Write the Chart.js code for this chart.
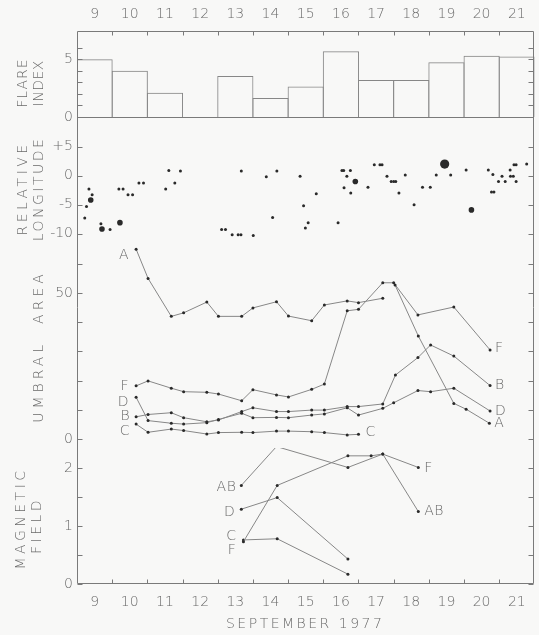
<!DOCTYPE html>
<html>
<head>
<meta charset="utf-8">
<script src="https://cdn.jsdelivr.net/npm/chart.js@4.4.1/dist/chart.umd.min.js"></script>
<style>
html,body{margin:0;padding:0;background:#f8f8f7;}
canvas{display:block;}
</style>
</head>
<body>
<canvas id="c" width="539" height="635"></canvas>
<script>
// ---------------- DATA ----------------
const days = [9,10,11,12,13,14,15,16,17,18,19,20,21];
const flareIndex = [5.0,4.0,2.1,0,3.55,1.65,2.65,5.7,3.2,3.2,4.75,5.3,5.25];

// relative longitude (small dots)
const lonSmallDay = [8.72,8.77,8.84,8.93,9.18,9.44,9.69,9.81,9.95,10.08,10.26,10.39,11.02,11.11,11.28,11.44,
  12.61,12.72,12.91,13.08,13.16,13.17,13.51,13.88,14.06,14.18,14.84,14.94,14.99,15.07,15.3,15.92,16.03,16.08,
  16.09,16.17,16.27,16.28,16.77,16.95,17.11,17.17,17.31,17.43,17.50,17.56,17.65,17.83,18.08,18.32,18.54,18.71,
  19.12,19.56,20.19,20.28,20.35,20.32,20.48,20.58,20.67,20.81,20.82,20.9,20.92,20.98,20.98,21.28];
const lonSmallVal = [-7.3,-5.3,-2.3,-3.3,-8.3,-9.3,-2.3,-2.3,-3.3,-3.3,-1.25,-1.25,-2.3,0.9,-1.25,0.8,
  -9.3,-9.3,-10.2,-10.2,-10.2,0.8,-10.3,-0.2,-7.2,0.8,-0.1,-5.2,-9.0,-8.1,-3.1,-8.1,0.9,0.9,
  -2.1,-0.1,0.9,-3.0,-2.0,1.9,1.9,1.9,-0.1,-1.0,-1.0,-1.0,-3.0,0.1,-5.0,-2.0,-2.0,0.1,
  0.1,1.0,1.0,-2.8,-2.8,0.2,-1.0,-0.1,-1.0,1.0,-0.1,-0.1,1.9,1.9,-1.0,2.0];
// relative longitude (large dots)
const lonBigDay = [8.89,9.21,9.72,16.41,19.71];
const lonBigVal = [-4.2,-9.2,-8.1,-1.0,-5.9];
// relative longitude (largest dot)
const lonHugeDay = [18.95];
const lonHugeVal = [2.0];

// umbral area
const umbA_day = [10.18,10.52,11.18,11.53,12.19,12.52,13.18,13.5,14.17,14.51,15.17,15.53,16.18,16.5,17.19,17.36,17.54,18.2,19.21,19.56,20.22];
const umbA_val = [65.0,55.0,42.0,43.2,46.9,42.0,42.0,44.9,47.0,42.1,40.5,45.9,47.3,46.7,48.2,null,52.7,35.3,12.2,10.2,5.4];
const umbF_day = [10.18,10.52,11.18,11.53,12.19,12.52,13.18,13.5,14.17,14.51,15.17,15.53,16.18,16.5,17.19,17.5,18.19,19.21,20.24];
const umbF_val = [18.2,19.9,17.4,16.2,16.0,15.4,13.1,16.9,15.1,14.4,17.0,18.8,43.9,44.4,53.5,53.5,42.5,45.2,30.5];
const umbD_day = [10.18,10.52,11.18,11.53,12.19,12.52,13.18,13.5,14.17,14.51,15.17,15.53,16.18,16.5,17.19,17.5,18.19,18.55,19.21,20.24];
const umbD_val = [14.3,6.3,5.4,5.1,5.6,6.7,8.8,7.3,7.4,7.3,8.2,8.6,10.7,8.2,10.5,12.4,16.6,16.2,17.4,9.6];
const umbB_day = [10.18,10.52,11.18,11.53,12.19,12.52,13.18,13.5,14.17,14.51,15.17,15.53,16.18,16.5,17.19,17.55,18.19,18.55,19.21,20.24];
const umbB_val = [7.6,8.4,9.0,7.3,5.9,6.5,9.4,10.7,9.4,9.4,9.9,9.9,11.1,11.1,12.0,21.9,27.9,32.2,28.4,18.3];
const umbC_day = [10.18,10.52,11.18,11.53,12.19,12.52,13.18,13.5,14.17,14.51,15.17,15.53,16.18,16.5];
const umbC_val = [5.1,2.3,3.4,2.9,1.7,2.2,2.3,2.2,2.7,2.7,2.5,2.2,1.4,1.6];

// magnetic field
const magAB_day = [13.17,14.17,16.2,17.19,18.2];
const magAB_val = [1.70,2.37,2.01,2.24,1.25];
const magF_day = [13.23,14.19,16.2,16.86,17.19,18.2];
const magF_val = [0.73,1.70,2.21,2.21,2.24,2.01];
const magD_day = [13.17,14.19,16.2];
const magD_val = [1.29,1.49,0.43];
const magC_day = [13.23,14.19,16.2];
const magC_val = [0.76,0.78,0.17];

// tick values and labels
const flareTicks = [0,1,2,3,4,5,6];
const flareTickLabels = {0:'0',5:'5'};
const lonTicks = [5,0,-5,-10];
const lonTickLabels = {'5':'+5','0':'0','-5':'-5','-10':'-10'};
const umbTicks = [0,10,20,30,40,50,60];
const umbTickLabels = {0:'0',50:'50'};
const magTicks = [0,0.5,1,1.5,2];
const magTickLabels = {0:'0',1:'1',2:'2'};

// ---------------- STYLE ----------------
const FONT = "'DejaVu Sans', 'Liberation Sans', sans-serif";
const ink = '#6a6a6a';
const lineCol = '#878787';
const dotCol = '#2a2a2a';
const frameCol = '#7a7a7a';
const tickFont = {family: FONT, size: 14, weight: 200};

const pts = (xs, ys) => xs.map((x, i) => ({x: x, y: ys[i]}));

function curve(xs, ys, axis) {
  return {type: 'line', data: pts(xs, ys), yAxisID: axis, xAxisID: 'x',
    borderColor: lineCol, borderWidth: 1, tension: 0, fill: false, spanGaps: false,
    pointRadius: 1.5, pointBackgroundColor: dotCol, pointBorderWidth: 0, pointHoverRadius: 1.5};
}
function dots(xs, ys, r) {
  return {type: 'scatter', data: pts(xs, ys), yAxisID: 'yLon', xAxisID: 'x', showLine: false,
    pointRadius: r, pointBackgroundColor: dotCol, pointBorderWidth: 0, pointHoverRadius: r};
}

const datasets = [
  {type: 'bar', data: pts(days, flareIndex), yAxisID: 'yFlare', xAxisID: 'x',
   backgroundColor: 'rgba(0,0,0,0)', borderColor: lineCol,
   borderWidth: {top: 1, left: 1, right: 1, bottom: 0}, borderSkipped: 'start',
   barPercentage: 1.028, categoryPercentage: 1, inflateAmount: 0},
  dots(lonSmallDay, lonSmallVal, 1.5),
  dots(lonBigDay, lonBigVal, 2.8),
  dots(lonHugeDay, lonHugeVal, 4.6),
  curve(umbA_day, umbA_val, 'yUmb'),
  curve(umbF_day, umbF_val, 'yUmb'),
  curve(umbD_day, umbD_val, 'yUmb'),
  curve(umbB_day, umbB_val, 'yUmb'),
  curve(umbC_day, umbC_val, 'yUmb'),
  curve(magAB_day, magAB_val, 'yMag'),
  curve(magF_day, magF_val, 'yMag'),
  curve(magD_day, magD_val, 'yMag'),
  curve(magC_day, magC_val, 'yMag')
];

// series label placement (text, series, end, dx, dy, align)
const seriesLabels = [
  ['A', umbA_day, umbA_val, 'yUmb', 0, -7, 6, 'right'],
  ['F', umbF_day, umbF_val, 'yUmb', 0, -7, 0, 'right'],
  ['D', umbD_day, umbD_val, 'yUmb', 0, -7, 5, 'right'],
  ['B', umbB_day, umbB_val, 'yUmb', 0, -6, 0, 'right'],
  ['C', umbC_day, umbC_val, 'yUmb', 0, -6, 7, 'right'],
  ['F', umbF_day, umbF_val, 'yUmb', 1, 5, -2, 'left'],
  ['B', umbB_day, umbB_val, 'yUmb', 1, 5, 0, 'left'],
  ['D', umbD_day, umbD_val, 'yUmb', 1, 5, 0, 'left'],
  ['A', umbA_day, umbA_val, 'yUmb', 1, 5, 0, 'left'],
  ['C', umbC_day, umbC_val, 'yUmb', 1, 7, -2, 'left'],
  ['AB', magAB_day, magAB_val, 'yMag', 0, -5, 2, 'right'],
  ['D', magD_day, magD_val, 'yMag', 0, -6, 3, 'right'],
  ['C', magC_day, magC_val, 'yMag', 0, -7, -4, 'right'],
  ['F', magF_day, magF_val, 'yMag', 0, -7, 9, 'right'],
  ['F', magF_day, magF_val, 'yMag', 1, 6, 1, 'left'],
  ['AB', magAB_day, magAB_val, 'yMag', 1, 6, 0, 'left']
];

function vText(ctx, text, x, yc, spacing, size) {
  ctx.save();
  ctx.translate(x, yc);
  ctx.rotate(-Math.PI / 2);
  ctx.font = '200 ' + size + 'px ' + FONT;
  ctx.letterSpacing = spacing + 'px';
  const w = ctx.measureText(text).width - spacing;
  ctx.textAlign = 'left';
  ctx.textBaseline = 'middle';
  ctx.fillText(text, -w / 2, 0);
  ctx.restore();
}

const decor = {
  id: 'decor',
  afterDatasetsDraw(chart) {
    const {ctx, chartArea: a, scales} = chart;
    const L = Math.round(a.left) + 0.5, R = Math.round(a.right) - 0.5;
    const T = Math.round(a.top) + 0.5, B = Math.round(a.bottom) - 0.5;
    ctx.save();
    ctx.strokeStyle = frameCol;
    ctx.lineWidth = 1;
    ctx.beginPath();
    ctx.moveTo(L, T); ctx.lineTo(R, T); ctx.lineTo(R, B); ctx.lineTo(L, B); ctx.closePath();
    const y0 = Math.round(scales.yFlare.getPixelForValue(0)) + 0.5;
    ctx.moveTo(L, y0); ctx.lineTo(R, y0);
    // inner ticks on y axes (both sides)
    ['yFlare', 'yLon', 'yUmb', 'yMag'].forEach(id => {
      const s = scales[id];
      s.ticks.forEach(t => {
        const y = Math.round(s.getPixelForValue(t.value)) + 0.5;
        ctx.moveTo(L, y); ctx.lineTo(L + 5, y);
        ctx.moveTo(R, y); ctx.lineTo(R - 5, y);
      });
    });
    // day boundary ticks on top and bottom
    days.slice(0, -1).forEach(d => {
      const x = Math.round(scales.x.getPixelForValue(d + 0.5)) + 0.5;
      ctx.moveTo(x, T); ctx.lineTo(x, T + 4);
      ctx.moveTo(x, B); ctx.lineTo(x, B - 4);
    });
    ctx.stroke();

    // axis titles
    ctx.fillStyle = ink;
    vText(ctx, 'FLARE', 23, scales.yFlare.getPixelForValue(2.9), 1, 14);
    vText(ctx, 'INDEX', 39, scales.yFlare.getPixelForValue(2.9), 0.5, 14);
    vText(ctx, 'RELATIVE', 23, scales.yLon.getPixelForValue(-2.5), 3.5, 14);
    vText(ctx, 'LONGITUDE', 39, scales.yLon.getPixelForValue(-2.5), 2.5, 14);
    vText(ctx, 'UMBRAL  AREA', 39, scales.yUmb.getPixelForValue(31), 4, 14);
    vText(ctx, 'MAGNETIC', 21, scales.yMag.getPixelForValue(1.1), 3.5, 14);
    vText(ctx, 'FIELD', 37, scales.yMag.getPixelForValue(0.98), 3.5, 14);

    ctx.font = '200 14px ' + FONT;
    ctx.letterSpacing = '2.5px';
    const st = 'SEPTEMBER 1977';
    const sw = ctx.measureText(st).width - 2.5;
    ctx.textAlign = 'left';
    ctx.textBaseline = 'middle';
    ctx.fillText(st, scales.x.getPixelForValue(14.95) - sw / 2, 624);

    // series labels
    ctx.letterSpacing = '0.5px';
    seriesLabels.forEach(([txt, xs, ys, axis, end, dx, dy, align]) => {
      let i = end ? xs.length - 1 : 0;
      const px = scales.x.getPixelForValue(xs[i]);
      const py = scales[axis].getPixelForValue(ys[i]);
      ctx.textAlign = align;
      ctx.fillText(txt, px + dx, py + dy);
    });
    ctx.restore();
  }
};

function xAxis(pos, h, pad) {
  return {type: 'linear', position: pos, min: 8.5, max: 21.5, offset: false,
    grid: {display: false, drawTicks: false, tickLength: 0}, border: {display: false},
    afterBuildTicks: s => { s.ticks = days.map(v => ({value: v})); },
    afterFit: s => { s.height = h; },
    ticks: {autoSkip: false, maxRotation: 0, minRotation: 0, padding: pad, color: ink, font: tickFont,
      callback: v => String(v)}};
}
function yAxis(weight, sw, min, max, vals, labels) {
  return {type: 'linear', position: 'left', stack: 'panels', stackWeight: sw, weight: weight,
    min: min, max: max, offset: false,
    grid: {display: false, drawTicks: false, tickLength: 0}, border: {display: false},
    afterBuildTicks: s => { s.ticks = vals.map(v => ({value: v})); },
    afterFit: s => { s.width = 77; },
    ticks: {autoSkip: false, padding: 4, color: ink, font: tickFont,
      callback: v => (labels[String(v)] !== undefined ? labels[String(v)] : '')}};
}

new Chart(document.getElementById('c'), {
  type: 'scatter',
  data: {datasets: datasets},
  options: {
    responsive: false, animation: false, devicePixelRatio: 1,
    layout: {padding: {left: 0, right: 1, top: 0, bottom: 0}},
    plugins: {legend: {display: false}, tooltip: {enabled: false}},
    scales: {
      x: xAxis('bottom', 51, 10),
      xTop: xAxis('top', 31, 8),
      yMag: yAxis(1, 136, 0, 2.345, magTicks, magTickLabels),
      yUmb: yAxis(2, 204, -3.08, 66.78, umbTicks, umbTickLabels),
      yLon: yAxis(3, 127, -11.78, 10.12, lonTicks, lonTickLabels),
      yFlare: yAxis(4, 86, 0, 7.45, flareTicks, flareTickLabels)
    }
  },
  plugins: [decor]
});
</script>
</body>
</html>
